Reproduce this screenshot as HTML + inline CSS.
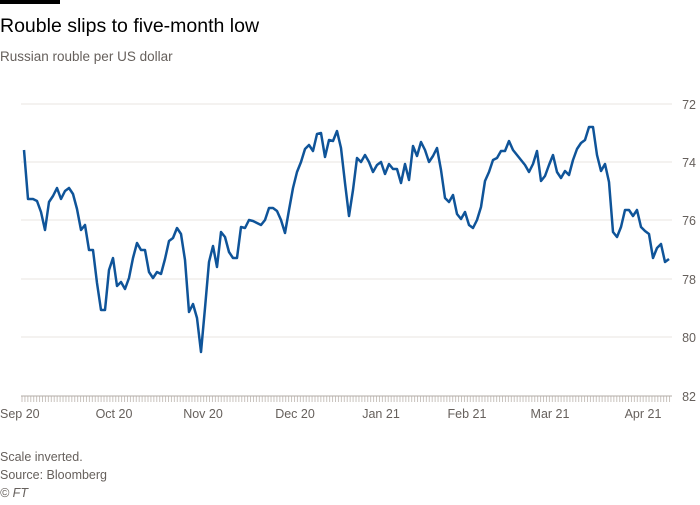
<!DOCTYPE html>
<html><head><meta charset="utf-8"><style>
body{margin:0;background:#fff;width:700px;height:500px;overflow:hidden;font-family:"Liberation Sans",sans-serif}
</style></head><body>
<svg width="700" height="500" xmlns="http://www.w3.org/2000/svg" font-family="Liberation Sans, sans-serif">
<defs>
<pattern id="tk" patternUnits="userSpaceOnUse" x="21.5" y="396" width="2.93" height="6">
<rect x="0" y="0" width="1" height="6" fill="#c8c2bd"/>
</pattern>
</defs>
<rect x="0" y="0" width="60" height="4" fill="#000"/>
<text x="0" y="32" font-size="19.5" fill="#000">Rouble slips to five-month low</text>
<text x="0" y="61" font-size="13.5" fill="#66605c">Russian rouble per US dollar</text>
<g stroke="#e9e4e0" stroke-width="1">
<line x1="21" x2="672" y1="104" y2="104"/><line x1="21" x2="672" y1="162" y2="162"/>
<line x1="21" x2="672" y1="220" y2="220"/><line x1="21" x2="672" y1="279" y2="279"/>
<line x1="21" x2="672" y1="337" y2="337"/>
</g>
<rect x="21.5" y="396" width="649" height="6" fill="url(#tk)"/>
<line x1="21" x2="672" y1="396" y2="396" stroke="#b3aca7"/>
<g font-size="12.5" fill="#66605c" text-anchor="end">
<text x="696" y="109">72</text><text x="696" y="167">74</text><text x="696" y="225">76</text>
<text x="696" y="284">78</text><text x="696" y="342">80</text><text x="696" y="401">82</text>
</g>
<g font-size="12.5" fill="#66605c" text-anchor="middle">
<text x="0" y="418" text-anchor="start">Sep 20</text><text x="114" y="418">Oct 20</text><text x="203" y="418">Nov 20</text>
<text x="295" y="418">Dec 20</text><text x="381" y="418">Jan 21</text><text x="467" y="418">Feb 21</text>
<text x="550" y="418">Mar 21</text><text x="643" y="418">Apr 21</text>
</g>
<polyline fill="none" stroke="#0f5499" stroke-width="2.5" stroke-linejoin="round" points="24,150 28,199 33,199 37,201 41,212 45,230 49,202 53,196 57,188 61,199 65,191 69,188 73,194 77,209 81,230 85,225 89,250 93,250 97,283 101,310 105,310 109,270 113,258 117,286 121,282 125,289 129,278 133,258 137,243 141,250 145,250 149,272 153,278 157,272 161,274 165,259 169,241 173,238 177,228 181,234 185,260 189,312 193,304 197,318 201,352 205,308 209,262 213,246 217,267 221,232 225,237 229,252 233,258 237,258 241,227 245,228 249,220 253,221 257,223 261,225 265,220 269,208 273,208 277,211 281,220 285,233 289,210 293,188 297,172 301,162 305,149 309,145 313,151 317,134 321,133 325,157 329,140 333,141 337,131 341,148 345,183 349,216 353,190 357,158 361,162 365,155 369,162 373,172 377,165 381,162 385,174 389,164 393,169 397,169 401,183 405,164 409,180 413,146 417,156 421,142 425,150 429,162 433,156 437,148 441,170 445,198 449,202 453,195 457,214 461,219 465,212 469,225 473,228 477,220 481,207 485,181 489,172 493,160 497,158 501,151 505,151 509,141 513,150 517,155 521,160 525,165 529,172 533,164 537,151 541,181 545,176 549,165 553,155 557,172 561,178 565,171 569,175 573,160 577,149 581,143 585,140 589,127 593,127 597,155 601,171 605,164 609,182 613,232 617,237 621,227 625,210 629,210 633,216 637,210 641,227 645,231 649,234 653,258 657,248 661,244 665,262 669,259"/>
<g font-size="12.5" fill="#66605c">
<text x="0" y="461">Scale inverted.</text>
<text x="0" y="479">Source: Bloomberg</text>
<text x="0" y="497" font-style="italic">© FT</text>
</g>
</svg>
</body></html>
